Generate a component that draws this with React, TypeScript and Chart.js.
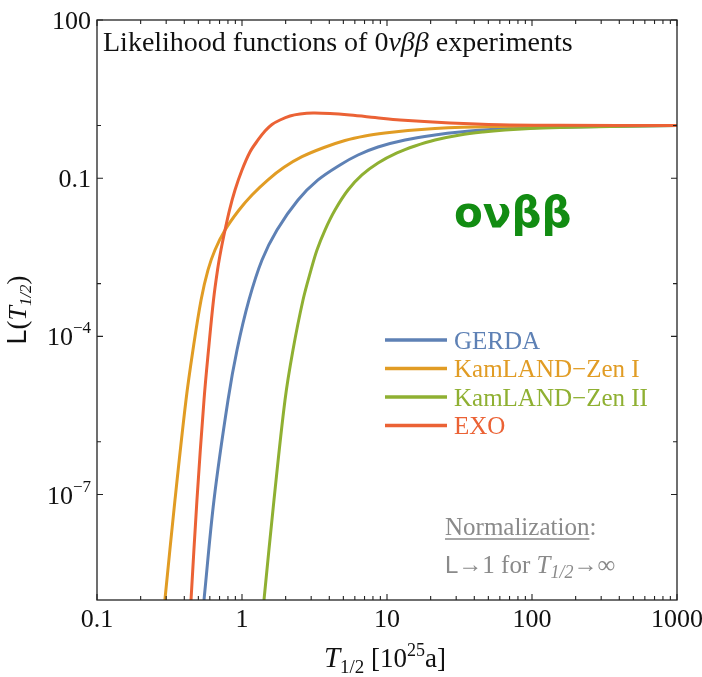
import React, { useEffect, useRef } from "react";
import { Chart, registerables } from "chart.js";
Chart.register(...registerables);

// ---- data (T1/2 in 10^25 a, likelihood L) ----
const gerdaT = [0.547, 0.641, 0.801, 0.924, 1.117, 1.374, 1.743, 2.433, 3.343, 4.742, 6.31, 8.67, 13.31, 21.43, 31.87, 55.56, 113.5, 294.4, 1000];
const gerdaL = [1e-9, 7.89e-8, 6.21e-6, 5.52e-5, 4.9e-4, 2.81e-3, 0.0104, 0.0386, 0.0925, 0.178, 0.275, 0.391, 0.53, 0.659, 0.751, 0.846, 0.911, 0.96, 1.0];

const klz1T = [0.294, 0.345, 0.411, 0.459, 0.522, 0.583, 0.651, 0.764, 0.954, 1.172, 1.511, 1.949, 2.594, 3.678, 5.132, 7.052, 9.687, 13.96, 21.43, 32.9, 70.5, 182.9, 1000];
const klz1L = [1e-9, 7.89e-8, 6.21e-6, 5.52e-5, 4.9e-4, 1.82e-3, 4.35e-3, 0.0104, 0.0249, 0.048, 0.0932, 0.1609, 0.2557, 0.382, 0.5186, 0.631, 0.719, 0.802, 0.876, 0.923, 0.968, 0.989, 1.0];

const klz2T = [1.418, 1.662, 1.98, 2.247, 2.635, 2.992, 3.29, 3.736, 4.379, 5.383, 6.723, 8.67, 11.72, 15.6, 21.43, 31.87, 45.93, 65.13, 96.87, 156.0, 345.1, 1000];
const klz2L = [1e-9, 7.89e-8, 6.21e-6, 5.52e-5, 4.9e-4, 1.82e-3, 4.35e-3, 0.0104, 0.0249, 0.0597, 0.115, 0.194, 0.301, 0.408, 0.53, 0.659, 0.751, 0.82, 0.876, 0.915, 0.956, 1.0];

const exoT = [0.445, 0.489, 0.547, 0.5875, 0.636, 0.678, 0.716, 0.764, 0.82, 0.895, 1.0, 1.135, 1.289, 1.441, 1.61, 1.829, 2.143, 2.512, 3.089, 4.045, 5.556, 8.265, 12.29, 27.19, 60.15, 156.0, 1000];
const exoL = [1e-9, 7.89e-8, 6.21e-6, 5.52e-5, 4.9e-4, 1.82e-3, 4.35e-3, 0.0104, 0.0249, 0.0597, 0.143, 0.314, 0.53, 0.785, 1.043, 1.269, 1.511, 1.649, 1.723, 1.686, 1.579, 1.416, 1.269, 1.113, 1.029, 1.007, 1.0];

const seriesNames = ["GERDA", "KamLAND\u2212Zen I", "KamLAND\u2212Zen II", "EXO"];
const seriesColors = ["#5E81B5", "#E19C24", "#8FB032", "#EB6235"];

const xMajorTicks = [0.1, 1, 10, 100, 1000];
const xTickLabels = ["0.1", "1", "10", "100", "1000"];
const yMajorTicks = [100, 0.1, 1e-4, 1e-7];
const yMinorTicks = [1, 1e-3, 1e-6];
const yTickBase = ["100", "0.1", "10", "10"];
const yTickExp = ["", "", "\u22124", "\u22127"];

const SERIF = "'Liberation Serif', 'Times New Roman', serif";
const SANS = "'Liberation Sans', Arial, sans-serif";

type Seg = { t: string; f: string; dy?: number; c?: string; u?: boolean };

function segsWidth(ctx: CanvasRenderingContext2D, segs: Seg[]) {
  let w = 0;
  for (const s of segs) {
    ctx.font = s.f;
    w += ctx.measureText(s.t).width;
  }
  return w;
}

function drawSegs(ctx: CanvasRenderingContext2D, segs: Seg[], x: number, y: number, color: string) {
  let cx = x;
  for (const s of segs) {
    ctx.font = s.f;
    ctx.fillStyle = s.c || color;
    const w = ctx.measureText(s.t).width;
    ctx.fillText(s.t, cx, y + (s.dy || 0));
    if (s.u) {
      ctx.save();
      ctx.strokeStyle = s.c || color;
      ctx.lineWidth = 1.3;
      ctx.beginPath();
      ctx.moveTo(cx, y + 4);
      ctx.lineTo(cx + w, y + 4);
      ctx.stroke();
      ctx.restore();
    }
    cx += w;
  }
}

const decorPlugin = {
  id: "decor",
  afterDraw(chart: any) {
    const ctx: CanvasRenderingContext2D = chart.ctx;
    const xs = chart.scales.x;
    const ys = chart.scales.y;
    const { left, right, top, bottom } = chart.chartArea;
    ctx.save();
    ctx.textBaseline = "alphabetic";

    // frame
    ctx.strokeStyle = "#222";
    ctx.lineWidth = 1.3;
    ctx.strokeRect(left, top, right - left, bottom - top);

    // x ticks (inward, bottom and top)
    ctx.lineWidth = 1.1;
    ctx.beginPath();
    for (let d = -1; d <= 3; d++) {
      const base = Math.pow(10, d);
      for (let k = 1; k <= 9; k++) {
        const v = base * k;
        if (v > 1000 + 1e-9) break;
        const px = xs.getPixelForValue(v);
        const len = k === 1 ? 6 : 4;
        ctx.moveTo(px, bottom);
        ctx.lineTo(px, bottom - len);
        ctx.moveTo(px, top);
        ctx.lineTo(px, top + len);
      }
    }
    // y ticks (inward, left and right)
    for (const v of yMajorTicks) {
      const py = ys.getPixelForValue(v);
      ctx.moveTo(left, py);
      ctx.lineTo(left + 6, py);
      ctx.moveTo(right, py);
      ctx.lineTo(right - 6, py);
    }
    for (const v of yMinorTicks) {
      const py = ys.getPixelForValue(v);
      ctx.moveTo(left, py);
      ctx.lineTo(left + 4, py);
      ctx.moveTo(right, py);
      ctx.lineTo(right - 4, py);
    }
    ctx.stroke();

    // x tick labels
    ctx.fillStyle = "#111";
    ctx.font = `26px ${SERIF}`;
    ctx.textAlign = "center";
    xMajorTicks.forEach((v, i) => {
      ctx.fillText(xTickLabels[i], xs.getPixelForValue(v), 627);
    });

    // y tick labels
    ctx.textAlign = "left";
    yMajorTicks.forEach((v, i) => {
      const py = ys.getPixelForValue(v);
      const rightEdge = left - 6;
      const baseFont = `26px ${SERIF}`;
      const expFont = `17px ${SERIF}`;
      ctx.font = expFont;
      const ew = yTickExp[i] ? ctx.measureText(yTickExp[i]).width : 0;
      ctx.font = baseFont;
      const bw = ctx.measureText(yTickBase[i]).width;
      const x0 = rightEdge - ew - bw;
      ctx.fillStyle = "#111";
      ctx.fillText(yTickBase[i], x0, py + 9);
      if (yTickExp[i]) {
        ctx.font = expFont;
        ctx.fillText(yTickExp[i], x0 + bw, py - 3);
      }
    });

    // title inside plot
    drawSegs(
      ctx,
      [
        { t: "Likelihood functions of 0", f: `28px ${SERIF}` },
        { t: "\u03BD\u03B2\u03B2", f: `italic 28px ${SERIF}` },
        { t: " experiments", f: `28px ${SERIF}` },
      ],
      left + 6,
      top + 31,
      "#111"
    );

    // x-axis title
    const xt: Seg[] = [
      { t: "T", f: `italic 29px ${SERIF}` },
      { t: "1/2", f: `19px ${SERIF}`, dy: 6 },
      { t: " [10", f: `27px ${SERIF}` },
      { t: "25", f: `18px ${SERIF}`, dy: -11 },
      { t: "a]", f: `27px ${SERIF}` },
    ];
    const xtw = segsWidth(ctx, xt);
    drawSegs(ctx, xt, 385 - xtw / 2, 667, "#111");

    // y-axis title (rotated)
    const yt: Seg[] = [
      { t: "L", f: `27px ${SANS}` },
      { t: "(", f: `27px ${SERIF}` },
      { t: "T", f: `italic 26px ${SERIF}` },
      { t: "1/2", f: `italic 17px ${SERIF}`, dy: 5 },
      { t: ")", f: `27px ${SERIF}` },
    ];
    const ytw = segsWidth(ctx, yt);
    ctx.save();
    ctx.translate(26, (top + bottom) / 2);
    ctx.rotate(-Math.PI / 2);
    drawSegs(ctx, yt, -ytw / 2, 0, "#111");
    ctx.restore();

    // legend
    const legY = [340, 368.5, 397, 425.5];
    seriesNames.forEach((name, i) => {
      ctx.strokeStyle = seriesColors[i];
      ctx.lineWidth = 3.5;
      ctx.beginPath();
      ctx.moveTo(385, legY[i]);
      ctx.lineTo(447, legY[i]);
      ctx.stroke();
      ctx.fillStyle = seriesColors[i];
      ctx.font = `25px ${SERIF}`;
      ctx.fillText(name, 454, legY[i] + 8.5);
    });

    // green 0vbb logo
    ctx.fillStyle = "#128c12";
    ctx.font = `bold 42px 'DejaVu Sans', sans-serif`;
    ctx.fillText("o\u03BD\u03B2\u03B2", 454, 227);

    // normalization note
    const gray = "#8a8a8a";
    drawSegs(
      ctx,
      [
        { t: "Normalization", f: `25px ${SERIF}`, u: true },
        { t: ":", f: `25px ${SERIF}` },
      ],
      445,
      535,
      gray
    );
    drawSegs(
      ctx,
      [
        { t: "L", f: `24px ${SANS}` },
        { t: "\u2192", f: `24px ${SERIF}`, dy: -1 },
        { t: "1 for ", f: `25px ${SERIF}` },
        { t: "T", f: `italic 25px ${SERIF}` },
        { t: "1/2", f: `italic 18px ${SERIF}`, dy: 5 },
        { t: "\u2192", f: `24px ${SERIF}`, dy: -1 },
        { t: "\u221E", f: `25px ${SERIF}` },
      ],
      445,
      573,
      gray
    );

    ctx.restore();
  },
};

export default function App() {
  const ref = useRef<HTMLCanvasElement | null>(null);
  useEffect(() => {
    if (!ref.current) return;
    const tArr = [gerdaT, klz1T, klz2T, exoT];
    const lArr = [gerdaL, klz1L, klz2L, exoL];
    const orders = [3, 2, 1, 0];
    const chart = new Chart(ref.current, {
      type: "line",
      data: {
        datasets: seriesNames.map((name, i) => ({
          label: name,
          data: tArr[i].map((t, j) => ({ x: t, y: lArr[i][j] })),
          borderColor: seriesColors[i],
          backgroundColor: seriesColors[i],
          borderWidth: 3,
          pointRadius: 0,
          fill: false,
          tension: 0.35,
          order: orders[i],
        })),
      },
      options: {
        responsive: false,
        animation: false,
        devicePixelRatio: 1,
        layout: { padding: { left: 97, top: 20, right: 25, bottom: 77 } },
        scales: {
          x: { type: "logarithmic", min: 0.1, max: 1000, display: false },
          y: { type: "logarithmic", min: 1e-9, max: 100, display: false },
        },
        plugins: {
          legend: { display: false },
          tooltip: { enabled: false },
        },
      },
      plugins: [decorPlugin],
    });
    return () => chart.destroy();
  }, []);
  return (
    <div style={{ position: "fixed", left: 0, top: 0, width: 702, height: 677, background: "#fff" }}>
      <canvas ref={ref} width={702} height={677} style={{ display: "block" }} />
    </div>
  );
}
